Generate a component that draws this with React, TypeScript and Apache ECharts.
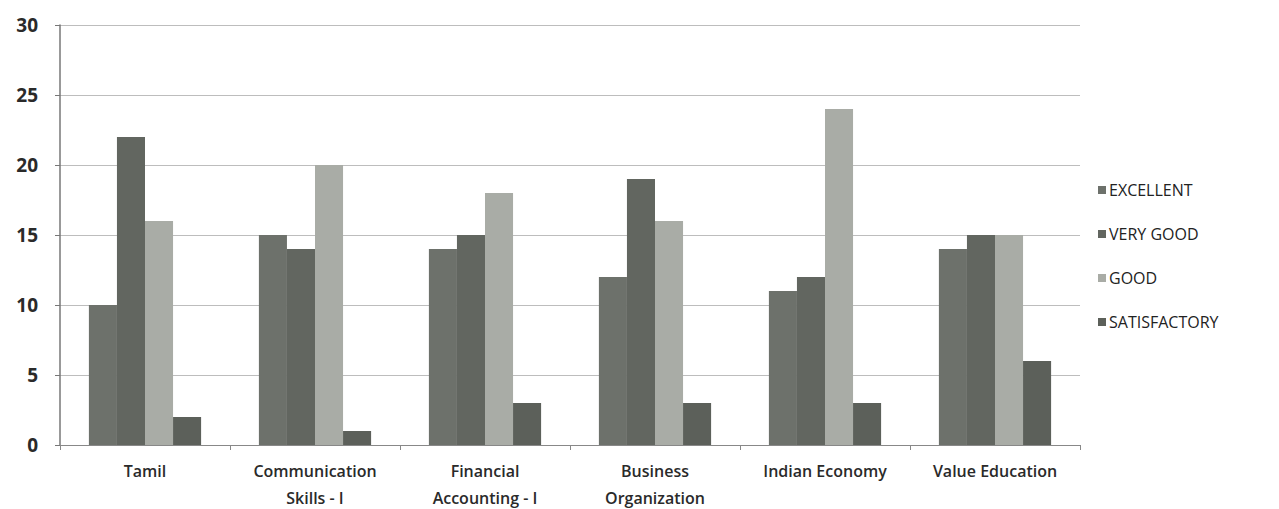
import React, { useEffect, useRef } from "react";
import * as echarts from "echarts";

const categories = [
  "Tamil",
  "Communication\nSkills - I",
  "Financial\nAccounting - I",
  "Business\nOrganization",
  "Indian Economy",
  "Value Education",
];
const excellent = [10, 15, 14, 12, 11, 14];
const veryGood = [22, 14, 15, 19, 12, 15];
const good = [16, 20, 18, 16, 24, 15];
const satisfactory = [2, 1, 3, 3, 3, 6];
const yTicks = [0, 5, 10, 15, 20, 25, 30];

const FONT = "'Open Sans', 'Noto Sans', sans-serif";

export default function App() {
  const ref = useRef<HTMLDivElement>(null);
  useEffect(() => {
    if (!ref.current) return;
    const chart = echarts.init(ref.current, undefined, { renderer: "svg" });
    const mk = (name: string, data: number[], color: string) => ({
      name,
      type: "bar",
      data,
      barGap: "0%",
      barCategoryGap: "34%",
      itemStyle: { color },
    });
    chart.setOption({
      animation: false,
      backgroundColor: "#ffffff",
      textStyle: { fontFamily: FONT },
      grid: {
        left: 60,
        right: 199,
        top: 25,
        bottom: 64,
        containLabel: false,
        outerBoundsMode: "none",
      },
      legend: {
        orient: "vertical",
        left: 1093,
        top: 177,
        itemWidth: 8,
        itemHeight: 8,
        itemGap: 28,
        icon: "rect",
        textStyle: { fontSize: 16, color: "#222", fontFamily: FONT, padding: [0, 0, 0, -2] },
        data: ["EXCELLENT", "VERY GOOD", "GOOD", "SATISFACTORY"],
      },
      xAxis: {
        type: "category",
        data: categories,
        axisLine: { show: true, lineStyle: { color: "#888", width: 1 } },
        axisTick: { show: true, alignWithLabel: false, length: 5, lineStyle: { color: "#888" } },
        axisLabel: {
          interval: 0,
          fontSize: 16,
          fontWeight: 600,
          color: "#2a2a2a",
          margin: 12,
          lineHeight: 27,
          fontFamily: FONT,
        },
      },
      yAxis: {
        type: "value",
        min: yTicks[0],
        max: yTicks[yTicks.length - 1],
        interval: 5,
        axisLine: { show: true, lineStyle: { color: "#777", width: 1.5 } },
        axisTick: { show: true, length: 5, lineStyle: { color: "#777" } },
        axisLabel: {
          fontSize: 19,
          fontWeight: 700,
          color: "#2a2a2a",
          margin: 22,
          fontFamily: FONT,
        },
        splitLine: { show: true, lineStyle: { color: "#bdbdbd", width: 1.2 } },
      },
      series: [
        mk("EXCELLENT", excellent, "#6d716b"),
        mk("VERY GOOD", veryGood, "#626660"),
        mk("GOOD", good, "#a9aca6"),
        mk("SATISFACTORY", satisfactory, "#5c605a"),
      ],
    });
    return () => chart.dispose();
  }, []);
  return (
    <div
      ref={ref}
      style={{ position: "fixed", left: 0, top: 0, width: 1279, height: 509 }}
    />
  );
}
